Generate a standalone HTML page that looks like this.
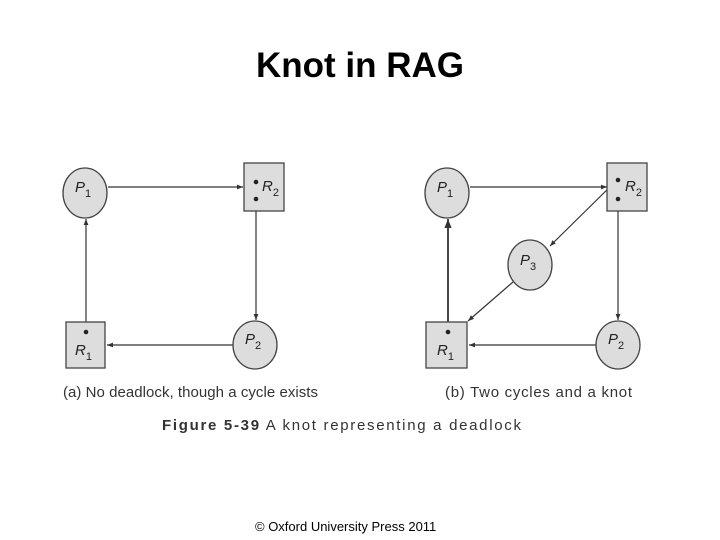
<!DOCTYPE html>
<html><head><style>
body{margin:0;width:720px;height:540px;background:#fff;overflow:hidden;position:relative;font-family:"Liberation Sans",sans-serif}
.t{position:absolute;left:0;width:720px;top:46px;text-align:center;font-size:35px;font-weight:bold;color:#000}
.f{position:absolute;left:255px;top:519px;font-size:13px;color:#000}
</style></head><body>
<div class="t">Knot in RAG</div>
<svg width="720" height="540" style="position:absolute;left:0;top:0" font-family="Liberation Sans,sans-serif">
<defs><marker id="a" markerWidth="6" markerHeight="6" refX="5" refY="3" orient="auto"><path d="M0,1 L5,3 L0,5z" fill="#333"/></marker></defs>
<g stroke="#333" stroke-width="1.2" fill="none" marker-end="url(#a)">
<line x1="108" y1="187" x2="243" y2="187"/>
<line x1="256" y1="200" x2="256" y2="320"/>
<line x1="233" y1="345" x2="107" y2="345"/>
<line x1="86" y1="331" x2="86" y2="219"/>
<line x1="470" y1="187" x2="607" y2="187"/>
<line x1="618" y1="200" x2="618" y2="320"/>
<line x1="596" y1="345" x2="469" y2="345"/>
<line x1="448" y1="331" x2="448" y2="219" stroke-width="1.8"/>
<line x1="617" y1="180" x2="550" y2="246"/>
<line x1="513" y1="282" x2="468" y2="321"/>
</g>
<g fill="#ddd" stroke="#444" stroke-width="1.3">
<ellipse cx="85" cy="193" rx="22" ry="25"/>
<rect x="244" y="163" width="40" height="48"/>
<rect x="66" y="322" width="39" height="46"/>
<ellipse cx="255" cy="345" rx="22" ry="24"/>
<ellipse cx="447" cy="193" rx="22" ry="25"/>
<rect x="607" y="163" width="40" height="48"/>
<ellipse cx="530" cy="265" rx="22" ry="25"/>
<rect x="426" y="322" width="41" height="46"/>
<ellipse cx="618" cy="345" rx="22" ry="24"/>
</g>
<g fill="#222">
<circle cx="256" cy="182" r="2.3"/><circle cx="256" cy="199" r="2.3"/><circle cx="86" cy="332" r="2.3"/>
<circle cx="618" cy="180" r="2.3"/><circle cx="618" cy="199" r="2.3"/><circle cx="448" cy="332" r="2.3"/>
</g>
<g font-size="15" font-style="italic" fill="#222">
<text x="75" y="192">P<tspan font-size="11" dy="5" font-style="normal">1</tspan></text>
<text x="262" y="191">R<tspan font-size="11" dy="5" font-style="normal">2</tspan></text>
<text x="75" y="355">R<tspan font-size="11" dy="5" font-style="normal">1</tspan></text>
<text x="245" y="344">P<tspan font-size="11" dy="5" font-style="normal">2</tspan></text>
<text x="437" y="192">P<tspan font-size="11" dy="5" font-style="normal">1</tspan></text>
<text x="625" y="191">R<tspan font-size="11" dy="5" font-style="normal">2</tspan></text>
<text x="520" y="265">P<tspan font-size="11" dy="5" font-style="normal">3</tspan></text>
<text x="437" y="355">R<tspan font-size="11" dy="5" font-style="normal">1</tspan></text>
<text x="608" y="344">P<tspan font-size="11" dy="5" font-style="normal">2</tspan></text>
</g>
<text x="63" y="397" font-size="15" fill="#333" textLength="255" lengthAdjust="spacing">(a) No deadlock, though a cycle exists</text>
<text x="445" y="397" font-size="15" fill="#333" textLength="187" lengthAdjust="spacing">(b) Two cycles and a knot</text>
<text x="162" y="430" font-size="15" fill="#333" textLength="359" lengthAdjust="spacing"><tspan font-weight="bold">Figure 5-39</tspan>   A knot representing a deadlock</text>
</svg>
<div class="f">© Oxford University Press 2011</div>
</body></html>
